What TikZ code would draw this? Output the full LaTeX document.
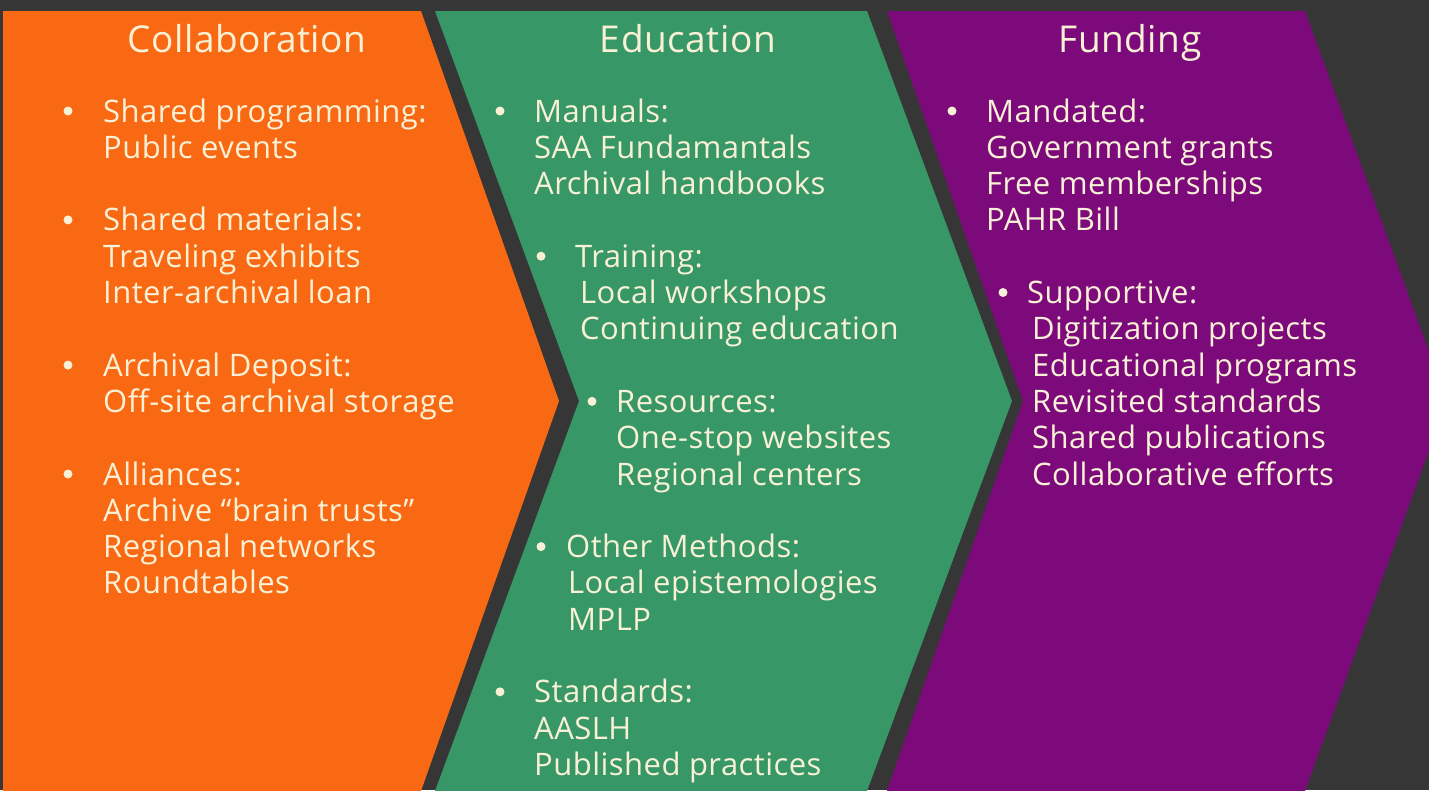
\documentclass[tikz,border=0pt]{standalone}
\usepackage{fontspec}
\setmainfont[LetterSpace=1.5]{Open Sans}
\definecolor{bgc}{HTML}{363636}
\definecolor{orc}{HTML}{F96913}
\definecolor{grc}{HTML}{389766}
\definecolor{puc}{HTML}{7D0A7B}
\definecolor{cream}{HTML}{F8F1D6}
\begin{document}
\begin{tikzpicture}[x=1pt,y=-1pt,
  txt/.style={text=cream, anchor=base west, inner sep=0pt, font=\fontsize{31}{36}\selectfont},
  ttl/.style={text=cream, anchor=base, inner sep=0pt, font=\fontsize{37}{43}\selectfont},
  bul/.style={circle, fill=cream, inner sep=0pt, minimum size=9pt}]
\useasboundingbox (0,0) rectangle (1429,790);
\clip (0,0) rectangle (1429,790);
\fill[bgc] (0,0) rectangle (1429,790);
% chevrons
\fill[orc] (3,11) -- (421,11) -- (559,401) -- (421,791) -- (3,791) -- cycle;
\fill[grc] (435,11) -- (867,11) -- (1012,401) -- (867,791) -- (435,791) -- (579,401) -- cycle;
\fill[puc] (887,11) -- (1305,11) -- (1447,401) -- (1305,791) -- (887,791) -- (1023,401) -- cycle;
% titles
\node[ttl] (t1) at (247,52) {Collaboration};
\node[ttl] (t2) at (688,52) {Education};
\node[ttl] (t3) at (1130,52) {Funding};
% Collaboration column
\foreach \k/\t in {0/Shared programming:,1/Public events,3/Shared materials:,4/Traveling exhibits,5/Inter-archival loan,7/Archival Deposit:,8/Off-site archival storage,10/Alliances:,11/Archive “brain trusts”,12/Regional networks,13/Roundtables}
  \node[txt] (o\k) at (103,122+36.3*\k) {\t};
\foreach \k in {0,3,7,10}
  \node[bul] (ob\k) at (68,111+36.3*\k) {};
% Education column
\foreach \k/\x/\t in {0/534/Manuals:,1/534/SAA Fundamantals,2/534/Archival handbooks,
  4/575/Training:,5/580/Local workshops,6/580/Continuing education,
  8/616/Resources:,9/616/One-stop websites,10/616/Regional centers,
  12/566/Other Methods:,13/568/Local epistemologies,14/568/MPLP,
  16/534/Standards:,17/534/AASLH,18/534/Published practices}
  \node[txt] (g\k) at (\x,122+36.3*\k) {\t};
\foreach \k/\x in {0/500,4/541,8/592,12/541,16/500}
  \node[bul] (gb\k) at (\x,111+36.3*\k) {};
% Funding column
\foreach \k/\x/\t in {0/986/Mandated:,1/986/Government grants,2/986/Free memberships,3/986/PAHR Bill,
  5/1027/Supportive:,6/1032/Digitization projects,7/1032/Educational programs,8/1032/Revisited standards,9/1032/Shared publications,10/1032/Collaborative efforts}
  \node[txt] (p\k) at (\x,122+36.3*\k) {\t};
\foreach \k/\x in {0/952,5/1003}
  \node[bul] (pb\k) at (\x,111+36.3*\k) {};
\end{tikzpicture}
\end{document}
